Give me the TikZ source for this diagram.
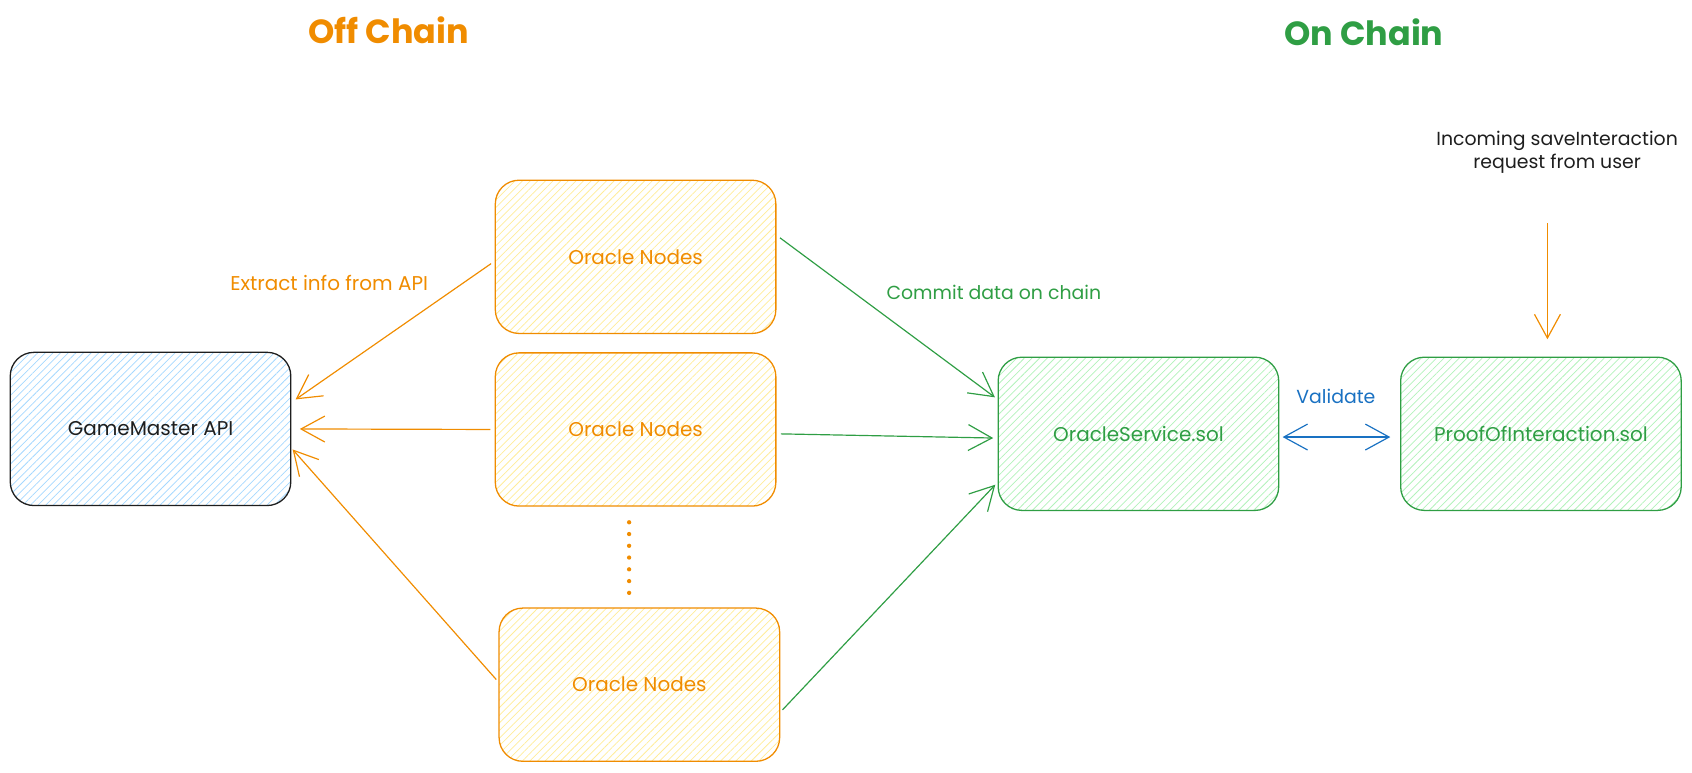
\documentclass[tikz,border=0pt]{standalone}
\usepackage{fontspec}
\setmainfont{Poppins}
\usetikzlibrary{arrows.meta,patterns.meta}
\definecolor{ora}{HTML}{F08C00}
\definecolor{orafill}{HTML}{FFEC99}
\definecolor{grn}{HTML}{2F9E44}
\definecolor{grnfill}{HTML}{B2F2BB}
\definecolor{blu}{HTML}{1971C2}
\definecolor{blufill}{HTML}{A5D8FF}
\definecolor{ink}{HTML}{1E1E1E}
\begin{document}
\begin{tikzpicture}[x=1pt,y=-1pt,
  box/.style={rectangle, rounded corners=22pt, minimum width=260pt, minimum height=142pt,
    line width=1.2pt, inner sep=0pt, font=\fontsize{18.5}{22}\selectfont},
  hatch/.style={pattern={Lines[angle=45,distance=5pt,line width=0.7pt]}, pattern color=#1},
  lbl/.style={inner sep=0pt, font=\fontsize{17.5}{22}\selectfont, align=center},
  ttl/.style={inner sep=0pt, font=\fontsize{31}{34}\selectfont\bfseries},
  arr/.style={line width=1.1pt, -{Straight Barb[length=22pt,width=24pt,line width=1.1pt]}},
  darr/.style={line width=1.1pt, {Straight Barb[length=22pt,width=24pt,line width=1.1pt]}-{Straight Barb[length=22pt,width=24pt,line width=1.1pt]}}
]
\useasboundingbox (0,0) rectangle (1568,715.5);

% titles
\node[ttl, text=ora] (offt) at (360,28) {Off Chain};
\node[ttl, text=grn] (ont) at (1264,30) {On Chain};

% boxes
\node[box, draw=ink, hatch=blufill, text=ink] (gm) at (139.5,397.5) {GameMaster API};
\node[box, draw=ora, hatch=orafill, text=ora] (o1) at (589,238) {Oracle Nodes};
\node[box, draw=ora, hatch=orafill, text=ora] (o2) at (589,398) {Oracle Nodes};
\node[box, draw=ora, hatch=orafill, text=ora] (o3) at (592.5,634.5) {Oracle Nodes};
\node[box, draw=grn, hatch=grnfill, text=grn] (os) at (1055,402) {OracleService.sol};
\node[box, draw=grn, hatch=grnfill, text=grn] (poi) at (1428,402) {ProofOfInteraction.sol};

% labels
\node[lbl, text=ora, font=\fontsize{18.5}{22}\selectfont] (lext) at (305,262) {Extract info from API};
\node[lbl, text=grn] (lcom) at (921,271) {Commit data on chain};
\node[lbl, text=blu] (lval) at (1238,367) {Validate};
\node[lbl, text=ink] (linc) at (1443,141) {Incoming saveInteraction\\request from user};

% dotted continuation
\coordinate (d1) at (583,484);
\coordinate (d2) at (583,550);
\draw[ora, line width=4pt, line cap=round, dash pattern=on 0pt off 10.9pt] (d1) -- (d2);

% off-chain arrows
\draw[arr, ora, shorten <=4pt, shorten >=5pt] ([yshift=-4pt]o1.west) -- ([yshift=24.5pt]gm.east);
\draw[arr, ora, shorten <=4pt, shorten >=8pt] (o2.west) -- (gm.east);
\draw[arr, ora, shorten <=3pt, shorten >=2pt] ([yshift=2.5pt]o3.west) -- ([yshift=-17.5pt]gm.east);

% on-chain arrows
\draw[arr, grn, shorten <=4pt, shorten >=3pt] ([yshift=20pt]o1.east) -- ([yshift=32pt]os.west);
\draw[arr, grn, shorten <=4pt, shorten >=4pt] ([yshift=-4pt]o2.east) -- ([yshift=-4pt]os.west);
\draw[arr, grn, shorten <=3pt, shorten >=3pt] ([yshift=-25.5pt]o3.east) -- ([yshift=-45pt]os.west);

% validate
\draw[darr, blu, shorten <=3pt, shorten >=9pt] ([yshift=-3pt]os.east) -- ([yshift=-3pt]poi.west);

% incoming request
\coordinate (inc) at (1434,207);
\draw[arr, ora, shorten >=16pt] (inc) -- ([xshift=6pt]poi.north);
\end{tikzpicture}
\end{document}
